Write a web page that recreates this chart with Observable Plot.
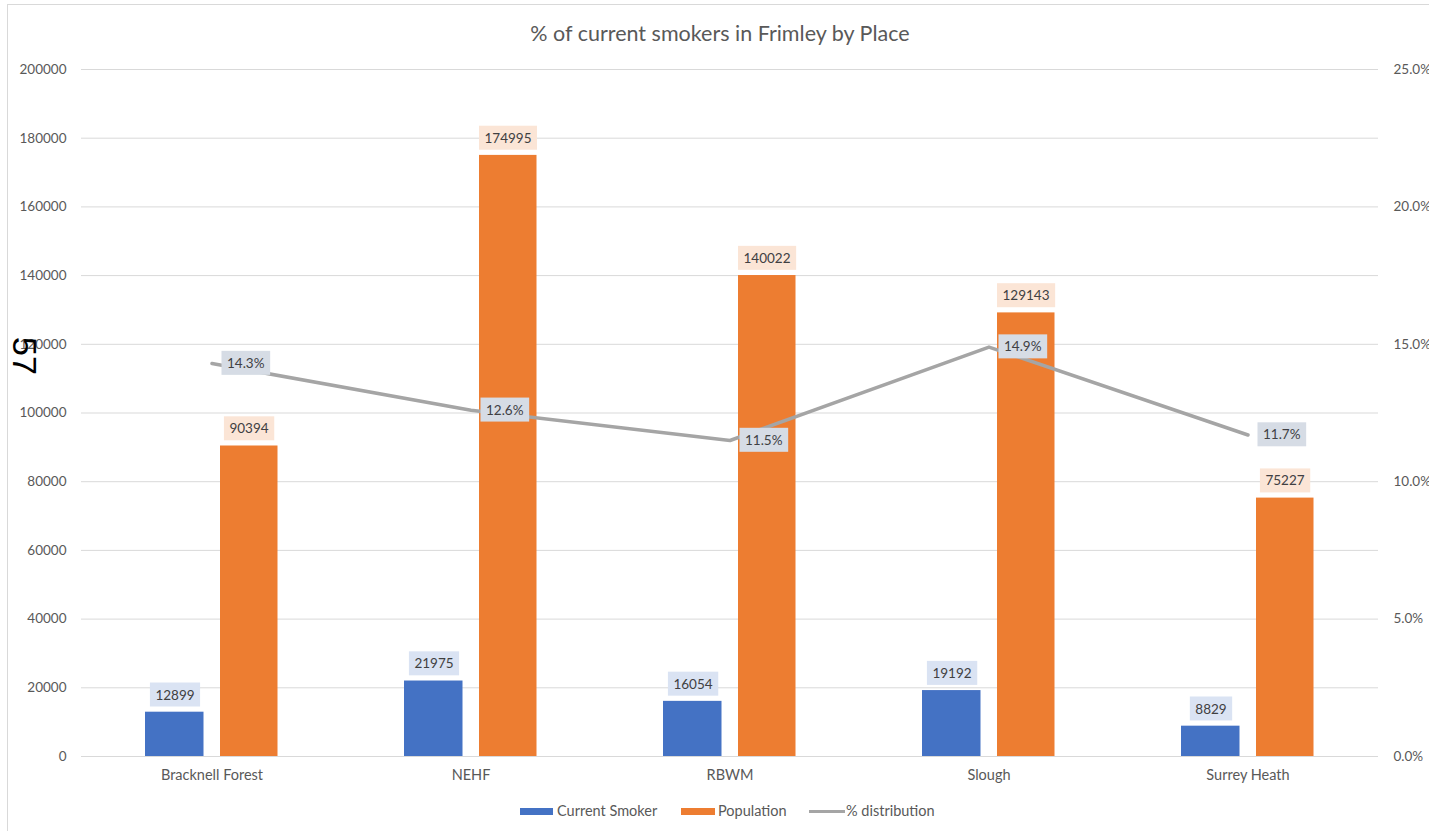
<!DOCTYPE html>
<html>
<head>
<meta charset="utf-8">
<script src="https://cdn.jsdelivr.net/npm/d3@7"></script>
<script src="https://cdn.jsdelivr.net/npm/@observablehq/plot@0.6"></script>
<style>
  html, body { margin: 0; padding: 0; background: #fff; width: 1429px; height: 831px; overflow: hidden; }
  #wrap { position: relative; width: 1429px; height: 831px; font-family: Lato, sans-serif; }
  #border { position: absolute; left: 7px; top: 4px; width: 1600px; height: 1000px; border: 1px solid #d9d9d9; box-sizing: border-box; }
  #chart { position: absolute; left: 0; top: 0; }
  #title { position: absolute; left: 0; width: 1440px; top: 20px; text-align: center; font-size: 21.5px; color: #595959; }
  .leg { position: absolute; font-size: 14.5px; color: #595959; top: 801px; line-height: 19px; white-space: nowrap; }
  .sw { position: absolute; }
  #pagenum { position: absolute; left: 25px; top: 356px; transform: translate(-50%, -50%) rotate(90deg); font-family: "Liberation Sans", sans-serif; font-size: 34px; color: #000; line-height: 1; }
</style>
</head>
<body>
<div id="wrap">
  <div id="border"></div>
  <div id="chart"></div>
  <div id="title">% of current smokers in Frimley by Place</div>
  <div class="sw" style="left:520px;top:808px;width:33px;height:7px;background:#4472c4"></div>
  <div class="leg" style="left:557px">Current Smoker</div>
  <div class="sw" style="left:681px;top:808px;width:34px;height:7px;background:#ed7d31"></div>
  <div class="leg" style="left:718px">Population</div>
  <div class="sw" style="left:809px;top:810px;width:36px;height:3px;background:#a5a5a5"></div>
  <div class="leg" style="left:846px">% distribution</div>
  <div id="pagenum">57</div>
</div>
<script>
const places = ["Bracknell Forest", "NEHF", "RBWM", "Slough", "Surrey Heath"];
const currentSmoker = [12899, 21975, 16054, 19192, 8829];
const population = [90394, 174995, 140022, 129143, 75227];
const pctDistribution = [0.143, 0.126, 0.115, 0.149, 0.117];
const leftTicks = [0, 20000, 40000, 60000, 80000, 100000, 120000, 140000, 160000, 180000, 200000];
const rightTicks = [0, 0.05, 0.10, 0.15, 0.20, 0.25];

const SCALE = 200000 / 0.25; // secondary axis mapping
const data = places.map((p, i) => ({place: p, smoker: currentSmoker[i], pop: population[i], pct: pctDistribution[i]}));

const chart = Plot.plot({
  width: 1429,
  height: 831,
  marginLeft: 81,
  marginRight: 51,
  marginTop: 69,
  marginBottom: 75,
  style: {fontFamily: "Lato, sans-serif", fontSize: "13.5px", color: "#595959", background: "transparent", overflow: "visible"},
  x: {type: "band", domain: places, padding: 0},
  y: {domain: [0, 200000]},
  marks: [
    Plot.gridY(leftTicks, {stroke: "#d9d9d9", strokeOpacity: 1, strokeWidth: 1}),
    Plot.axisY(leftTicks, {anchor: "left", tickSize: 0, tickPadding: 15, tickFormat: d => String(d), label: null, fill: "#595959"}),
    Plot.axisY(rightTicks.map(p => p * SCALE), {anchor: "right", tickSize: 0, tickPadding: 15, tickFormat: d => (d / SCALE * 100).toFixed(1) + "%", label: null, fill: "#595959"}),
    Plot.axisX({tickSize: 0, tickPadding: 13, label: null, fill: "#595959", fontSize: 14.5}),
    Plot.barY(data, {x: "place", y: "smoker", fill: "#4472c4", insetLeft: 63, insetRight: 137.5}),
    Plot.barY(data, {x: "place", y: "pop", fill: "#ed7d31", insetLeft: 138, insetRight: 63.5}),
    Plot.lineY(data, {x: "place", y: d => d.pct * SCALE, stroke: "#a5a5a5", strokeWidth: 3.5}),
    Plot.text(data, {x: "place", y: "smoker", text: d => String(d.smoker), dx: -37, dy: -17, fill: "#404041"}),
    Plot.text(data, {x: "place", y: "pop", text: d => String(d.pop), dx: 37, dy: -17, fill: "#404042"}),
    Plot.text(data, {x: "place", y: d => d.pct * SCALE, text: d => (d.pct * 100).toFixed(1) + "%", dx: 15, textAnchor: "start", fill: "#404043"})
  ]
});
document.getElementById("chart").appendChild(chart);

function addBoxes(textFill, fill, padX, padY) {
  const texts = Array.from(chart.querySelectorAll("text")).filter(t => {
    const g = t.closest("g[fill]");
    return (t.getAttribute("fill") || (g && g.getAttribute("fill")) || "").toLowerCase() === textFill;
  });
  texts.forEach(t => {
    const b = t.getBBox();
    const r = document.createElementNS("http://www.w3.org/2000/svg", "rect");
    r.setAttribute("x", b.x - padX);
    r.setAttribute("y", b.y - padY);
    r.setAttribute("width", b.width + 2 * padX);
    r.setAttribute("height", b.height + 2 * padY);
    r.setAttribute("fill", fill);
    const tr = t.getAttribute("transform");
    if (tr) r.setAttribute("transform", tr);
    t.parentNode.insertBefore(r, t);
  });
}
addBoxes("#404041", "#dae3f3", 5.5, 4);
addBoxes("#404042", "#fbe5d6", 5.5, 4);
addBoxes("#404043", "#d6dce5", 5.5, 4);
</script>
</body>
</html>
